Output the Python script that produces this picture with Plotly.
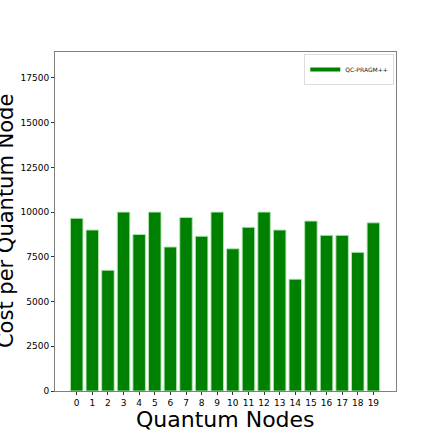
import plotly.graph_objects as go

nodes = list(range(20))
tick_labels = [str(n) for n in nodes]
costs = [9650, 9000, 6750, 10000, 8750, 10000, 8050, 9700, 8650, 10000,
         7950, 9150, 10000, 9000, 6250, 9500, 8700, 8700, 7750, 9400]
y_ticks = [0, 2500, 5000, 7500, 10000, 12500, 15000, 17500]
series_name = "QC-PRAGM++"
x_title = "Quantum Nodes"
y_title = "Cost per Quantum Node"

fig = go.Figure()
fig.add_trace(go.Bar(
    x=nodes, y=costs, name=series_name, width=0.8,
    marker=dict(color="green", line=dict(color="rgba(180,230,180,0.9)", width=1)),
    showlegend=False, legendgroup="s",
))
# legend entry drawn as a thick short line, like the reference's small patch
fig.add_trace(go.Scatter(
    x=[None], y=[None], mode="lines", name=series_name, legendgroup="s",
    line=dict(color="green", width=4), showlegend=True, hoverinfo="skip",
))

axis_common = dict(
    showline=True, linecolor="#808080", linewidth=1, mirror=True, automargin=False,
    ticks="outside", ticklen=3, tickcolor="#333", showgrid=False, zeroline=False,
    tickfont=dict(family="DejaVu Sans", size=9, color="black"),
)
fig.update_layout(
    width=440, height=440,
    margin=dict(l=55, r=44, t=52, b=49),
    paper_bgcolor="white", plot_bgcolor="white",
    font=dict(family="DejaVu Sans", color="black"),
    bargap=0.2,
    xaxis=dict(**axis_common, range=[-1.39, 20.45], tickmode="array",
               tickvals=nodes, ticktext=tick_labels),
    yaxis=dict(**axis_common, range=[0, 18950], tickmode="array",
               tickvals=y_ticks, ticktext=[str(v) for v in y_ticks]),
    legend=dict(x=0.995, y=0.994, xanchor="right", yanchor="top",
                bgcolor="white", bordercolor="#dddddd", borderwidth=1,
                font=dict(size=6, color="#222"), itemwidth=30, tracegroupgap=0),
    annotations=[
        dict(text=x_title, xref="paper", yref="paper", x=0.5, y=-0.083,
             xanchor="center", yanchor="middle", showarrow=False,
             font=dict(size=22, family="DejaVu Sans", color="black")),
        dict(text=y_title, xref="paper", yref="paper", x=-0.145, y=0.5,
             xanchor="center", yanchor="middle", showarrow=False, textangle=-90,
             font=dict(size=21, family="DejaVu Sans", color="black")),
    ],
)
fig.write_html("out.html", config={"displayModeBar": False},
               post_script="document.body.style.margin='0px';")
